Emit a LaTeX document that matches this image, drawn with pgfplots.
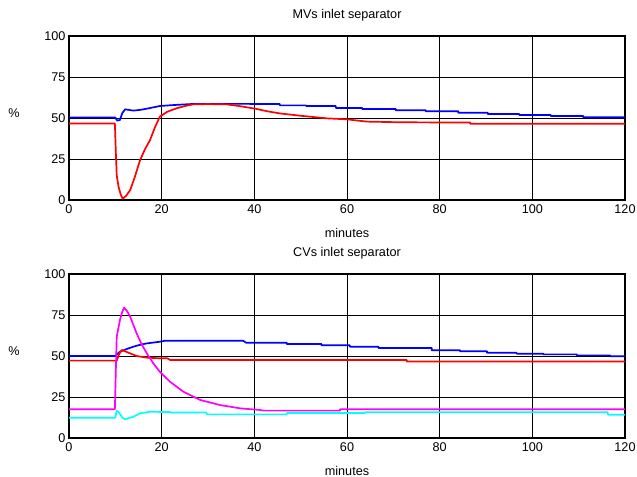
\documentclass[border=0pt]{standalone}
\usepackage{fontspec}
\setmainfont{Liberation Sans}
\usepackage{pgfplots}
\pgfplotsset{compat=1.18}
\definecolor{mvblue}{RGB}{0,0,255}
\definecolor{mvred}{RGB}{255,0,0}
\definecolor{cvmag}{RGB}{255,0,255}
\definecolor{cvcyan}{RGB}{0,255,255}
\newcommand\lblfont{\fontsize{12.7}{14}\selectfont}
\pgfplotsset{
  sep/.style={
    scale only axis, width=556bp, height=164bp,
    xmin=0, xmax=120, ymin=0, ymax=100,
    xtick={0,20,...,120}, ytick={0,25,50,75,100},
    grid=major, grid style={black, line width=0.8pt},
    axis line style={black, line width=1.4pt},
    major tick length=0pt,
    tick label style={font=\lblfont},
    /pgf/number format/assume math mode=true,
    xticklabel style={yshift=-1bp},
    every axis title/.style={at={(0.5,1)}, anchor=center, yshift=21bp, font=\lblfont},
    every axis x label/.style={at={(0.5,0)}, anchor=center, yshift=-33bp, font=\lblfont},
    every axis y label/.style={at={(0,0.5)}, anchor=center, xshift=-55bp, yshift=5bp, font=\lblfont},
    xlabel={minutes}, ylabel={\%},
    every axis plot/.append style={line width=1.7pt, line join=round},
  },
}
\begin{document}
\begin{tikzpicture}
\useasboundingbox (0,0) rectangle (637bp,-477bp);
\begin{axis}[sep, at={(69bp,-200bp)}, anchor=south west, title={MVs inlet separator}]
  \addplot[mvblue] coordinates {(0,50.3) (10,50.3) (10.4,48.4) (11,48.8) (11.5,53) (12.1,55.3) (13.9,54.5) (15.5,55) (17,55.8) (19.6,57.3) (22,57.8) (25,58.3) (27,58.6) (39,58.6) (39,58.5) (45.5,58.5) (45.5,57.7) (51.2,57.7) (51.2,57.3) (57.6,57.3) (57.6,56.1) (63.3,56.1) (63.3,55.5) (70.5,55.5) (70.5,54.7) (77,54.7) (77,54.1) (84,54.1) (84,53.2) (90.4,53.2) (90.4,52.4) (97.2,52.4) (97.2,51.8) (104,51.8) (104,51.2) (111,51.2) (111,50.4) (120,50.4)};
  \addplot[mvred] coordinates {(0,46.7) (9.9,46.7) (10.1,30) (10.3,15) (10.7,8) (11.2,3) (11.6,0.8) (12.3,2.5) (13.2,6) (14.2,14) (15.3,24) (16.4,31) (17.5,36.6) (18.5,44) (19.6,50.8) (21.2,53.8) (23.2,55.9) (25,57.3) (26.8,58.3) (30,58.5) (34,58.3) (37,57.2) (40.5,55.5) (43,54) (45.5,52.8) (49.9,51.4) (52,50.8) (55.6,49.8) (59.9,49.2) (64.3,47.8) (71.4,47.4) (86.6,47.2) (86.6,46.5) (120,46.5)};
\end{axis}
\begin{axis}[sep, at={(69bp,-438bp)}, anchor=south west, title={CVs inlet separator}]
  \addplot[mvblue] coordinates {(0,50) (9.9,50) (11,52.6) (12.5,54.3) (13.9,55.7) (15.3,56.8) (16.8,57.7) (19.6,58.7) (20.7,59.3) (37.6,59.3) (38.2,58.1) (47,58.1) (47,57.3) (54.5,57.3) (54.5,56.5) (60.6,56.5) (60.6,55.7) (66.8,55.7) (66.8,54.9) (78.3,54.9) (78.3,53.5) (84.4,53.5) (84.4,52.9) (90.2,52.9) (90.2,52) (96.6,52) (96.6,51.4) (102.4,51.4) (102.4,51) (109.6,51) (109.6,50.4) (116.8,50.4) (116.8,49.8) (120,49.8)};
  \addplot[mvred] coordinates {(0,47.2) (10.3,47.2) (10.8,51) (11.4,53.7) (13.2,51.6) (14.6,50) (16.8,49) (19.6,48.6) (21.2,48.6) (21.8,47.6) (72.9,47.6) (72.9,46.6) (120,46.6)};
  \addplot[cvmag] coordinates {(0,17.5) (9.9,17.5) (10.1,40) (10.3,61.8) (11,72) (11.5,77) (11.9,79.5) (12.5,77.5) (13.2,74) (14.6,63.8) (15.7,57) (16.8,51.6) (18.2,45.5) (19.6,40.4) (21.8,34.3) (24.7,28.2) (28.3,23.2) (32.6,20.1) (36.9,18.1) (41.2,17.1) (42,16.7) (58.5,16.7) (58.5,17.5) (120,17.5)};
  \addplot[cvcyan] coordinates {(0,12.4) (10,12.4) (10.3,16.7) (10.8,15.5) (11.5,12.5) (12.1,11.4) (13.9,13) (15.3,15) (17.5,16) (21.8,15.8) (22,15.5) (29.7,15.5) (29.7,14.4) (47,14.4) (47,15.2) (63.9,15.2) (63.9,15.7) (116.3,15.7) (116.3,14.2) (120,14.2)};
\end{axis}
\end{tikzpicture}
\end{document}
